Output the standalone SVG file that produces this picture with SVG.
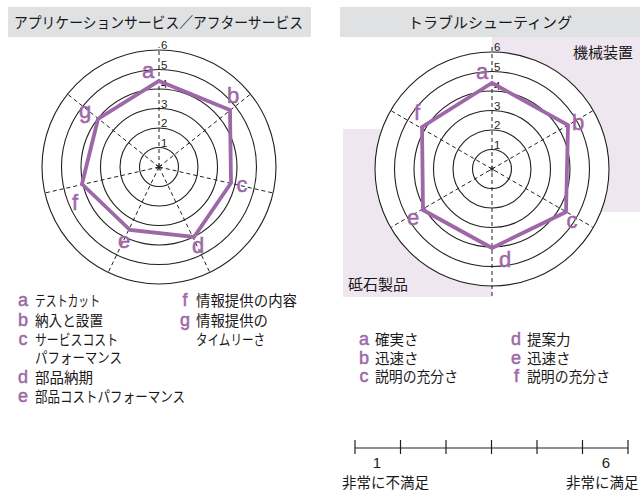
<svg xmlns="http://www.w3.org/2000/svg" width="640" height="491" viewBox="0 0 640 491">
<style>
.jp{font-family:"Noto Sans CJK JP","Noto Sans",sans-serif;fill:#1a1718;font-weight:400}
.ttl{font-size:15px}
.lg{font-size:14.5px}
.lt{font-family:"Liberation Sans",Arial,sans-serif;fill:#9e68a8;stroke:#9e68a8;stroke-width:0.5}
.axl{font-size:22px;text-anchor:middle}
.lgl{font-size:18px;text-anchor:middle}
.num{font-family:"Liberation Sans",Arial,sans-serif;font-size:11.5px;fill:#231f20}
.ring{fill:none;stroke:#231f20;stroke-width:1.1}
.spoke{stroke:#231f20;stroke-width:1;stroke-dasharray:4 3;fill:none}
.poly{fill:none;stroke:#9e68a8;stroke-width:3.8;stroke-linejoin:miter}
.bar{fill:#dfe1e3}
.pink{fill:#efe7ef}
.scale{stroke:#231f20;stroke-width:1.2;fill:none}
</style>

<g id="title-left">
<rect class="bar" x="8" y="7" width="303" height="30"/>
<text class="jp ttl" x="14" y="27.5" textLength="289" lengthAdjust="spacingAndGlyphs">アプリケーションサービス／アフターサービス</text>
</g>
<g id="title-right">
<rect class="bar" x="340" y="7" width="300" height="30"/>
<text class="jp ttl" x="490" y="27.5" text-anchor="middle">トラブルシューティング</text>
</g>

<!-- Left radar chart -->
<g id="chart-left">
<circle cx="159" cy="167" r="117" fill="#fff" stroke="none"/>
<g class="ring">
<circle cx="159" cy="167" r="19.5"/>
<circle cx="159" cy="167" r="39"/>
<circle cx="159" cy="167" r="58.5"/>
<circle cx="159" cy="167" r="78"/>
<circle cx="159" cy="167" r="97.5"/>
<circle cx="159" cy="167" r="117"/>
</g>
<g id="spokes-left" class="spoke">
<line x1="159" y1="167" x2="159" y2="47"/>
<line x1="159" y1="167" x2="250.5" y2="94.1"/>
<line x1="159" y1="167" x2="273.1" y2="193"/>
<line x1="159" y1="167" x2="209.8" y2="272.4"/>
<line x1="159" y1="167" x2="108.2" y2="272.4"/>
<line x1="159" y1="167" x2="44.9" y2="193"/>
<line x1="159" y1="167" x2="67.5" y2="94.1"/>
</g>
<g stroke="#231f20" stroke-width="0.9">
<line x1="159" y1="163.5" x2="159" y2="170.5"/>
<line x1="156" y1="165" x2="162" y2="169"/>
<line x1="162" y1="165" x2="156" y2="169"/>
</g>
<g class="num">
<text x="161" y="146.5">1</text>
<text x="161" y="127">2</text>
<text x="161" y="107.5">3</text>
<text x="161" y="88">4</text>
<text x="161" y="68.5">5</text>
<text x="161" y="49">6</text>
</g>
<polygon class="poly" points="159,81 230,110 231,183 194,237 130,230 82,184 98,119"/>
<g class="lt axl">
<text x="148" y="78">a</text>
<text x="233" y="103">b</text>
<text x="242" y="192">c</text>
<text x="198" y="253">d</text>
<text x="124" y="248">e</text>
<text x="75" y="210">f</text>
<text x="85" y="118">g</text>
</g>
</g>

<!-- Right radar chart -->
<g id="chart-right">
<rect class="pink" x="492" y="37" width="148" height="175"/>
<rect class="pink" x="343" y="129" width="149" height="168"/>
<circle cx="492" cy="169" r="117" fill="#fff" stroke="none"/>
<g class="ring">
<circle cx="492" cy="169" r="19.5"/>
<circle cx="492" cy="169" r="39"/>
<circle cx="492" cy="169" r="58.5"/>
<circle cx="492" cy="169" r="78"/>
<circle cx="492" cy="169" r="97.5"/>
<circle cx="492" cy="169" r="117"/>
</g>
<g id="spokes-right" class="spoke">
<line x1="492" y1="47" x2="492" y2="297"/>
<line x1="391.5" y1="111" x2="592.5" y2="227"/>
<line x1="592.5" y1="111" x2="391.5" y2="227"/>
</g>
<g stroke="#231f20" stroke-width="0.9">
<line x1="492" y1="165.5" x2="492" y2="172.5"/>
<line x1="489" y1="167.2" x2="495" y2="170.8"/>
<line x1="495" y1="167.2" x2="489" y2="170.8"/>
</g>
<g class="num">
<text x="494" y="148.5">1</text>
<text x="494" y="129">2</text>
<text x="494" y="109.5">3</text>
<text x="494" y="90">4</text>
<text x="494" y="70.5">5</text>
<text x="494" y="51">6</text>
</g>
<polygon class="poly" points="492,83 568,125 566,212 492,248 423,210 422,127"/>
<g class="lt axl">
<text x="482" y="79">a</text>
<text x="578" y="130">b</text>
<text x="572" y="228">c</text>
<text x="505" y="267">d</text>
<text x="413" y="225">e</text>
<text x="417" y="120">f</text>
</g>
<text class="jp" x="633" y="58" font-size="15" text-anchor="end">機械装置</text>
<text class="jp" x="348" y="290" font-size="15">砥石製品</text>
</g>

<!-- Left legend -->
<g id="legend-left">
<g class="lt lgl">
<text x="23" y="306">a</text>
<text x="23" y="326">b</text>
<text x="23" y="345">c</text>
<text x="23" y="383">d</text>
<text x="23" y="402">e</text>
<text x="185" y="306">f</text>
<text x="185" y="326">g</text>
</g>
<g class="jp lg">
<text x="35" y="306" textLength="65" lengthAdjust="spacingAndGlyphs">テストカット</text>
<text x="35" y="326" textLength="68" lengthAdjust="spacingAndGlyphs">納入と設置</text>
<text x="35" y="345" textLength="83" lengthAdjust="spacingAndGlyphs">サービスコスト</text>
<text x="35" y="363" textLength="87" lengthAdjust="spacingAndGlyphs">パフォーマンス</text>
<text x="35" y="383" textLength="58" lengthAdjust="spacingAndGlyphs">部品納期</text>
<text x="35" y="402" textLength="150" lengthAdjust="spacingAndGlyphs">部品コストパフォーマンス</text>
<text x="196" y="306" textLength="101" lengthAdjust="spacingAndGlyphs">情報提供の内容</text>
<text x="196" y="326" textLength="72" lengthAdjust="spacingAndGlyphs">情報提供の</text>
<text x="196" y="345" textLength="69" lengthAdjust="spacingAndGlyphs">タイムリーさ</text>
</g>
</g>

<!-- Right legend -->
<g id="legend-right">
<g class="lt lgl">
<text x="364" y="345">a</text>
<text x="364" y="363.5">b</text>
<text x="364" y="382">c</text>
<text x="516" y="345">d</text>
<text x="516" y="363.5">e</text>
<text x="516.5" y="382">f</text>
</g>
<g class="jp lg">
<text x="375" y="345">確実さ</text>
<text x="375" y="363.5">迅速さ</text>
<text x="375" y="382" textLength="83" lengthAdjust="spacingAndGlyphs">説明の充分さ</text>
<text x="527" y="345">提案力</text>
<text x="527" y="363.5">迅速さ</text>
<text x="527" y="382" textLength="83" lengthAdjust="spacingAndGlyphs">説明の充分さ</text>
</g>
</g>

<!-- Scale -->
<g id="scale">
<g class="scale">
<line x1="355" y1="448" x2="628" y2="448"/>
<line x1="355" y1="440" x2="355" y2="454"/>
<line x1="400.5" y1="440" x2="400.5" y2="454"/>
<line x1="446" y1="440" x2="446" y2="454"/>
<line x1="491.5" y1="440" x2="491.5" y2="454"/>
<line x1="537" y1="440" x2="537" y2="454"/>
<line x1="582.5" y1="440" x2="582.5" y2="454"/>
<line x1="628" y1="440" x2="628" y2="454"/>
</g>
<text x="377" y="468" font-family="Liberation Sans, Arial, sans-serif" font-size="15" fill="#231f20" text-anchor="middle">1</text>
<text x="606" y="468" font-family="Liberation Sans, Arial, sans-serif" font-size="15" fill="#231f20" text-anchor="middle">6</text>
<text class="jp lg" x="342" y="488">非常に不満足</text>
<text class="jp lg" x="566" y="488">非常に満足</text>
</g>
</svg>
